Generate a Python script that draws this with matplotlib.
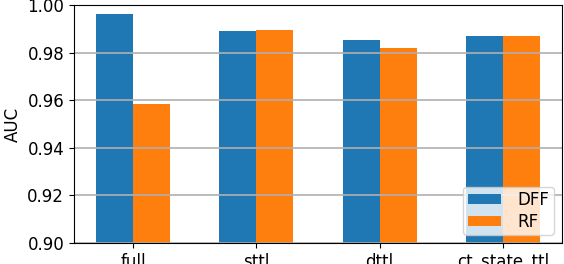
import matplotlib
matplotlib.use('Agg')
import matplotlib.pyplot as plt
import numpy as np

# AUC per feature set
categories = ['full', 'sttl', 'dttl', 'ct_state_ttl']
dff_auc = [0.9962, 0.9891, 0.9853, 0.9870]
rf_auc = [0.9584, 0.9895, 0.9819, 0.9870]

plt.rcParams['font.size'] = 12

x = np.arange(len(categories))
width = 0.3

fig, ax = plt.subplots(figsize=(5.64, 2.64), dpi=100)
ax.bar(x - width / 2, dff_auc, width, label='DFF', color='#1f77b4')
ax.bar(x + width / 2, rf_auc, width, label='RF', color='#ff7f0e')

ax.set_ylim(0.90, 1.00)
ax.set_yticks(np.arange(0.90, 1.001, 0.02))
ax.set_yticklabels(['%.2f' % v for v in np.arange(0.90, 1.001, 0.02)])
ax.set_xticks(x)
ax.set_xticklabels(categories)
ax.set_ylabel('AUC')
ax.yaxis.grid(True, color='#b0b0b0', linewidth=1.2)
ax.legend(loc='lower right', labelspacing=0.2, borderpad=0.25,
          handleheight=0.55, handletextpad=1.0)

plt.subplots_adjust(left=0.131, right=0.9965, top=0.981, bottom=0.0795)
plt.savefig('out.png', dpi=100)
